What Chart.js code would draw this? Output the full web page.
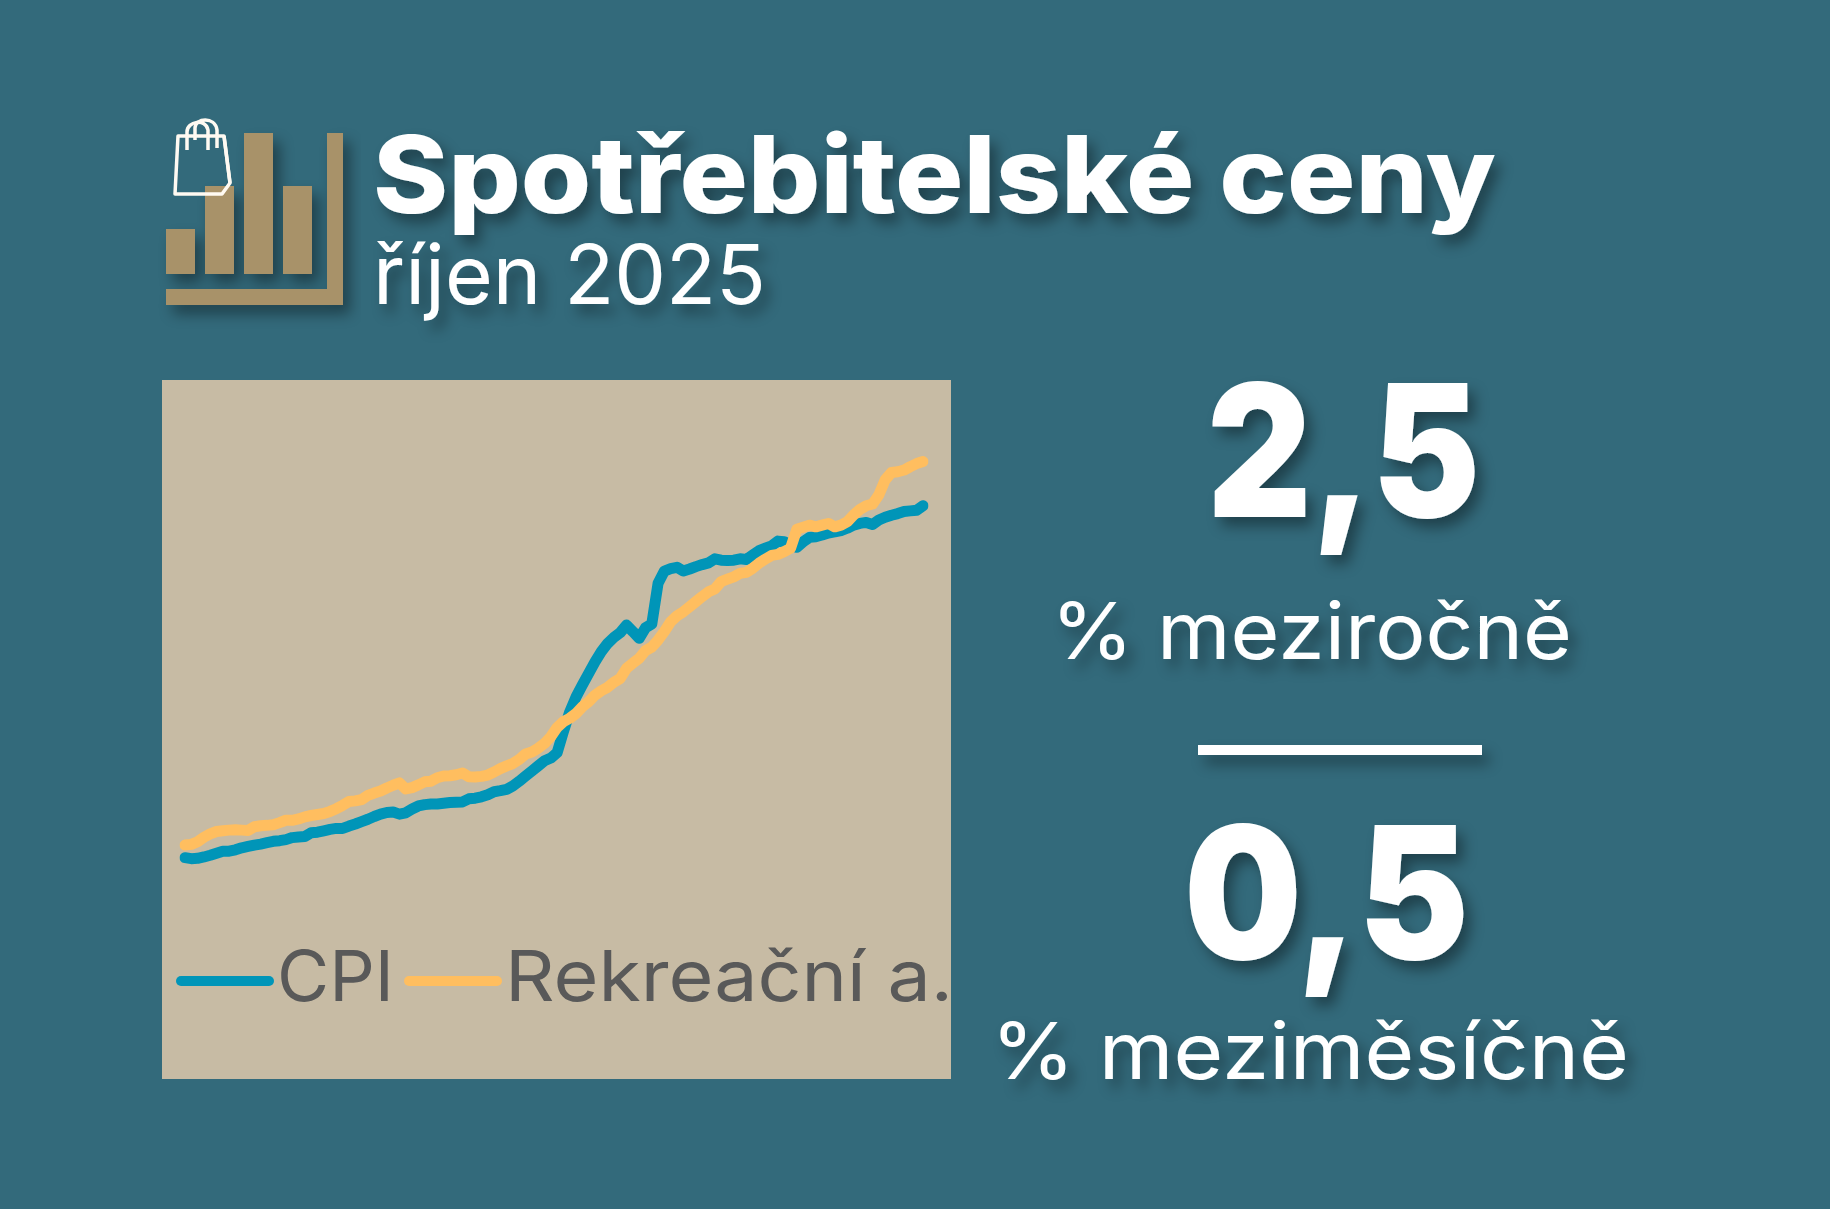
<!DOCTYPE html>
<html lang="cs"><head><meta charset="utf-8">
<script src="https://cdn.jsdelivr.net/npm/chart.js@4"></script>
<style>
html,body{margin:0;padding:0;background:#336a7b;width:1830px;height:1209px;overflow:hidden}
#panel{position:absolute;left:162px;top:380px;width:789px;height:699px;background:#c7bba4}
#wrap{position:absolute;left:162px;top:380px;width:789px;height:699px}
svg{position:absolute;left:0;top:0}
text{font-family:Inter,"Noto Sans",sans-serif}
</style></head><body>
<div id="panel"></div>
<div id="wrap"><canvas id="c" width="789" height="699"></canvas></div>
<svg id="art" width="1830" height="1209" xmlns="http://www.w3.org/2000/svg">
<defs>
<filter id="sh" x="-10%" y="-30%" width="120%" height="160%"><feDropShadow dx="7" dy="9" stdDeviation="7" flood-color="#000" flood-opacity=".38"/></filter>
</defs>
<g filter="url(#sh)" fill="#a89269">
<rect x="166" y="229" width="29" height="45"/><rect x="205" y="186" width="29" height="88"/>
<rect x="244" y="133" width="29" height="141"/><rect x="283" y="186" width="29" height="88"/>
<path d="M327 133h16v172H166v-16h161z"/>
</g>
<g fill="none" stroke="#fffaf2" stroke-width="3.5" stroke-linejoin="round">
<path d="M178 136H224L230 183L222 194H175Z"/><path d="M224 136L230 183"/>
<path d="M187 150V132C187 121 206 118 208 130V150"/><path d="M195 140V128C195 118 215 116 217 130V148"/>
</g>
<g filter="url(#sh)" fill="#fff">
<text x="373" y="213" font-size="107" font-weight="800" textLength="1123" lengthAdjust="spacingAndGlyphs">Spotřebitelské ceny</text>
<text x="373" y="304" font-size="82" font-weight="400" textLength="393" lengthAdjust="spacingAndGlyphs">říjen 2025</text>
<text x="1207" y="517" font-size="184" font-weight="900" textLength="273" lengthAdjust="spacingAndGlyphs">2,5</text>
<text x="1051" y="659" font-size="78" font-weight="400" textLength="521" lengthAdjust="spacingAndGlyphs">% meziročně</text>
<rect x="1198" y="745" width="284" height="10"/>
<text x="1184" y="959" font-size="184" font-weight="900" textLength="285" lengthAdjust="spacingAndGlyphs">0,5</text>
<text x="991" y="1079" font-size="78" font-weight="400" textLength="638" lengthAdjust="spacingAndGlyphs">% meziměsíčně</text>
</g>
<g id="legend" font-size="70" fill="#595959"></g>
</svg>
<script>
const cpiValues=[100.05,99.9,99.95,100.15,100.4,100.7,101.0,101.0,101.2,101.5,101.7,101.9,102.05,102.25,102.45,102.55,102.7,103.0,103.1,103.15,
103.7,103.8,104.0,104.2,104.35,104.35,104.7,105.0,105.35,105.7,106.1,106.45,106.7,106.75,106.45,106.65,107.2,107.65,107.85,107.95,
107.95,108.05,108.15,108.2,108.25,108.7,108.8,109.0,109.3,109.75,109.9,110.1,110.6,111.3,112.05,112.8,113.55,114.3,114.7,115.5,
118.6,121.5,123.7,125.45,127.15,128.85,130.35,131.55,132.45,133.15,134.25,133.3,132.3,133.85,134.4,140.4,142.2,142.55,142.75,142.2,
142.5,142.85,143.15,143.4,144.0,143.8,143.75,143.8,144.0,143.9,144.55,145.2,145.55,145.9,146.6,146.5,146.05,145.7,146.5,147.15,
147.25,147.5,147.8,147.95,148.15,148.5,148.95,149.2,149.35,149.05,149.7,150.1,150.4,150.65,150.95,151.05,151.15,151.8];
const recreationValues=[101.9,102.0,102.4,103.05,103.55,103.9,104.0,104.1,104.15,104.1,104.05,104.6,104.75,104.8,104.9,105.2,105.55,105.55,105.75,106.05,
106.25,106.4,106.55,106.85,107.25,107.75,108.3,108.4,108.6,109.2,109.55,109.85,110.3,110.7,111.05,110.15,110.35,110.75,111.2,111.3,
111.8,112.05,112.1,112.25,112.5,111.95,111.9,112.0,112.2,112.65,113.15,113.55,113.9,114.5,115.3,115.6,116.15,116.85,117.85,119.2,
120.05,120.55,121.25,122.25,123.0,123.95,124.6,125.1,125.85,126.4,127.9,128.65,129.35,130.5,131.0,132.05,133.3,134.75,135.6,136.2,
136.95,137.7,138.45,139.15,139.55,140.65,141.0,141.35,141.85,142.0,142.6,143.35,143.95,144.5,144.65,145.05,145.55,148.35,148.65,148.95,
148.7,148.95,149.2,148.7,148.95,149.45,150.45,151.25,151.8,152.05,153.4,155.6,156.7,156.8,157.05,157.55,158.0,158.3];
const categories=cpiValues.map((_,i)=>{const m=i%12+1,y=2016+Math.floor(i/12);return y+'-'+String(m).padStart(2,'0');});
const seriesNames=['CPI','Rekreační a.'];
const seriesColors=['#0095b8','#ffbe5f'];

const chart=new Chart(document.getElementById('c'),{
 type:'line',
 data:{labels:categories,datasets:[
  {label:seriesNames[0],data:cpiValues,borderColor:seriesColors[0],order:2},
  {label:seriesNames[1],data:recreationValues,borderColor:seriesColors[1],order:1}
 ]},
 options:{responsive:false,animation:false,
  layout:{padding:{left:23,right:28,top:2,bottom:153}},
  elements:{point:{radius:0},line:{borderWidth:11,tension:0,borderCapStyle:'round',borderJoinStyle:'round'}},
  plugins:{legend:{display:false},tooltip:{enabled:false}},
  scales:{x:{display:false},y:{display:false,min:90,max:170}}
 }
});
// legend built from the chart's own datasets
const NS='http://www.w3.org/2000/svg',lg=document.getElementById('legend');
const legendItems=[{x1:181,x2:269,tx:277,tw:117},{x1:409,x2:497,tx:505,tw:448}];
chart.data.datasets.forEach((d,i)=>{
 const l=document.createElementNS(NS,'line'),it=legendItems[i];
 l.setAttribute('x1',it.x1);l.setAttribute('x2',it.x2);l.setAttribute('y1',981);l.setAttribute('y2',981);
 l.setAttribute('stroke',d.borderColor);l.setAttribute('stroke-width',10);l.setAttribute('stroke-linecap','round');lg.appendChild(l);
 const t=document.createElementNS(NS,'text');t.setAttribute('x',it.tx);t.setAttribute('y',1001);
 t.setAttribute('textLength',it.tw);t.setAttribute('lengthAdjust','spacingAndGlyphs');t.textContent=d.label;lg.appendChild(t);
});
</script>
</body></html>
